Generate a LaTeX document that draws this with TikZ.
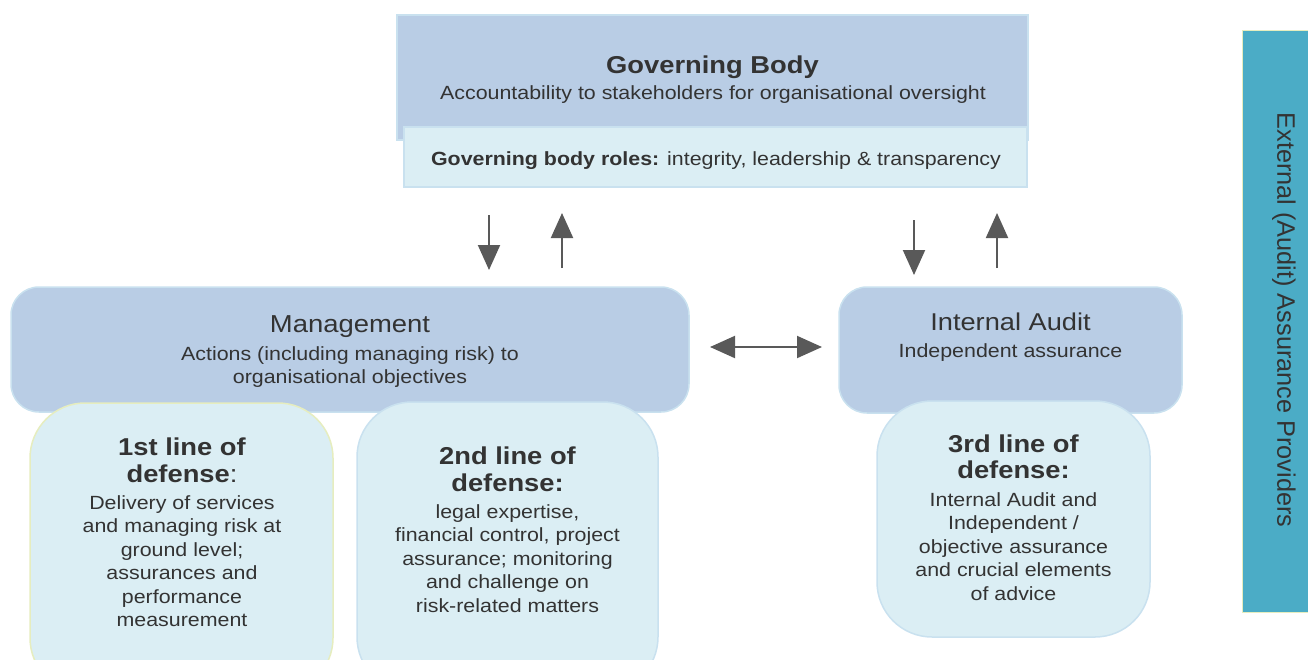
\documentclass[tikz,border=0pt]{standalone}
\usepackage{fontspec}
\setmainfont{Liberation Sans}[FakeStretch=1.12]
\newfontfamily\barfont{Liberation Sans}
\usetikzlibrary{arrows.meta}

\definecolor{deepfill}{HTML}{B9CDE5}
\definecolor{palefill}{HTML}{DBEEF4}
\definecolor{edgeblue}{HTML}{C9E1EF}
\definecolor{edgeyellow}{HTML}{E6EDBF}
\definecolor{inkgray}{HTML}{333333}
\definecolor{arrowgray}{HTML}{595959}
\definecolor{barteal}{HTML}{4BACC6}

% font size / leading shorthand
\newcommand{\fs}[2]{\fontsize{#1}{#2}\selectfont}
% fixed first-line height, so a north anchor sits 0.75em above the first baseline
\newcommand{\tstrut}{\rule{0pt}{0.75em}}

\tikzset{
  box/.style={draw=edgeblue, line width=1.5pt, inner sep=0pt, outer sep=0pt, anchor=north west},
  deep/.style={box, fill=deepfill},
  pale/.style={box, fill=palefill},
  lbl/.style={inner sep=0pt, outer sep=0pt, text=inkgray, align=center},
  tipshape/.tip={Triangle[width=22pt,length=25pt]},
  flow/.style={draw=arrowgray, line width=2pt, -tipshape},
  twoway/.style={draw=arrowgray, line width=2pt, tipshape-tipshape},
}

\begin{document}
\begin{tikzpicture}[x=1pt,y=-1pt]
\useasboundingbox (0,0) rectangle (1308,659);
\clip (0,0) rectangle (1308,659);

% ---- governing body ----
\node[deep, minimum width=631pt, minimum height=125pt] (gov) at (397,15) {};
\node[pale, minimum width=623pt, minimum height=60pt] (roles) at (404,127) {};

% ---- management and its two lines of defense ----
\node[deep, rounded corners=28pt, minimum width=678pt, minimum height=125pt] (mgmt) at (11,287) {};
\node[pale, draw=edgeyellow, rounded corners=55pt, minimum width=303pt, minimum height=290pt] (first) at (30,403) {};
\node[pale, rounded corners=55pt, minimum width=301pt, minimum height=290pt] (second) at (357,402) {};

% ---- internal audit and third line ----
\node[deep, rounded corners=28pt, minimum width=343pt, minimum height=126pt] (ia) at (839,287) {};
\node[pale, rounded corners=55pt, minimum width=273pt, minimum height=236pt] (third) at (877,401) {};

% ---- external assurance bar ----
\node[fill=barteal, draw=edgeyellow, line width=1pt, inner sep=0pt, outer sep=0pt, anchor=north west,
      minimum width=70pt, minimum height=582pt] (ext) at (1242,30) {};

% ---- texts ----
\node[lbl, anchor=base, font=\bfseries\fs{24.4}{27}] (govtitle) at (712.5,73) {Governing Body};
\node[lbl, anchor=base, font=\fs{19.1}{23.5}] (govsub) at (713,99) {Accountability to stakeholders for organisational oversight};
\node[lbl, anchor=base, font=\fs{19.1}{23.5}] (rolestext) at (716,165) {\textbf{Governing body roles:} integrity, leadership \& transparency};

\node[lbl, anchor=base, font=\fs{24.5}{27}] (mgmttitle) at (350,332) {Management};
\node[lbl, anchor=north, font=\fs{19.1}{23.2}] (mgmtsub) at (350,345.7)
  {\tstrut Actions (including managing risk) to\\organisational objectives};

\node[lbl, anchor=north, font=\bfseries\fs{24.4}{27}] (firsthead) at (182,436.7)
  {\tstrut 1st line of\\defense{\mdseries :}};
\node[lbl, anchor=north, font=\fs{19.1}{23.5}] (firstbody) at (182,494.7)
  {\tstrut Delivery of services\\and managing risk at\\ground level;\\assurances and\\performance\\measurement};

\node[lbl, anchor=north, font=\bfseries\fs{24.4}{27}] (secondhead) at (507.5,445.7)
  {\tstrut 2nd line of\\defense:};
\node[lbl, anchor=north, font=\fs{19.1}{23.5}] (secondbody) at (507.5,503.7)
  {\tstrut legal expertise,\\financial control, project\\assurance; monitoring\\and challenge on\\risk-related matters};

\node[lbl, anchor=base, font=\fs{24.3}{27}] (iatitle) at (1010.5,330) {Internal Audit};
\node[lbl, anchor=base, font=\fs{19.1}{23.5}] (iasub) at (1010.5,357) {Independent assurance};

\node[lbl, anchor=north, font=\bfseries\fs{24.4}{26.5}] (thirdhead) at (1013.5,433.7)
  {\tstrut 3rd line of\\defense:};
\node[lbl, anchor=north, font=\fs{19.1}{23.5}] (thirdbody) at (1013.5,491.7)
  {\tstrut Internal Audit and\\Independent /\\objective assurance\\and crucial elements\\of advice};

\node[lbl, rotate=-90, font=\barfont\fs{25.3}{30}] (exttext) at (1284,320) {External (Audit) Assurance Providers};

% ---- connectors ----
\coordinate (xa) at (489,0);
\coordinate (xb) at (562,0);
\coordinate (xc) at (914,0);
\coordinate (xd) at (997,0);
\coordinate (ym) at (0,347);

\draw[flow, shorten <=28pt, shorten >=17pt] (roles.south -| xa) -- (mgmt.north -| xa);
\draw[flow, shorten <=19pt, shorten >=26pt] (mgmt.north -| xb) -- (roles.south -| xb);
\draw[flow, shorten <=33pt, shorten >=12pt] (roles.south -| xc) -- (ia.north -| xc);
\draw[flow, shorten <=19pt, shorten >=26pt] (ia.north -| xd) -- (roles.south -| xd);
\draw[twoway, shorten <=21pt, shorten >=17pt] (mgmt.east |- ym) -- (ia.west |- ym);
\end{tikzpicture}
\end{document}
